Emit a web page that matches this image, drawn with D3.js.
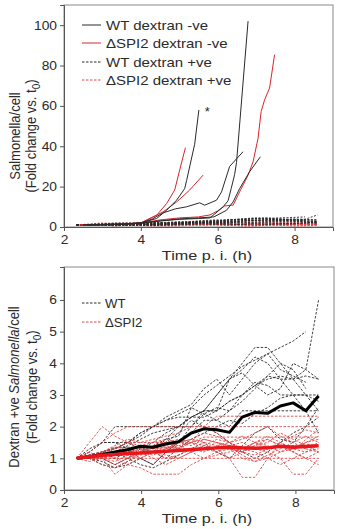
<!DOCTYPE html>
<html><head><meta charset="utf-8">
<script src="https://cdn.jsdelivr.net/npm/d3@7"></script>
<style>
body{margin:0;background:#fff}
text{font-family:"Liberation Sans",Arial,sans-serif;fill:#2b2b2b}
</style>
</head><body>
<svg id="c" width="341" height="529"></svg>
<script>
// ---------- DATA ----------
const timeGrid = [2.33,2.66,2.99,3.32,3.65,3.98,4.31,4.64,4.97,5.30,5.63,5.96,6.29,6.62,6.95,7.28,7.61,7.94,8.27,8.60];

// Top panel: dextran -ve cells (Salmonella/cell fold change)
const wtNegTimes = [
  [2.5,3.5,4.0,4.41,4.67,4.93,5.14,5.19,5.40,5.51],
  [2.5,3.5,4.0,4.5,5.0,5.5,5.8,6.14,6.27,6.35,6.44,6.49,6.79],
  [2.6,3.5,4.0,4.3,4.58,4.9,5.19,5.53,5.66,5.97,6.10,6.31,6.50,6.66],
  [2.6,3.5,4.0,4.5,5.0,5.5,5.9,6.23,6.40,6.57,6.83,7.11]
];
const wtNegValues = [
  [1,1.5,2,4.2,8.3,13.3,19,23,41,58],
  [1,1.3,1.8,3,3.8,4.2,4.5,10,13,19,26,32,102],
  [1,1.5,2,4,7,9,10,12,10.8,13.3,17.4,30,34,37.3],
  [1,1.3,2,3,4,4.5,5,8.3,12.4,19,27.4,34.8]
];
const spiNegTimes = [
  [2.4,3.5,4.0,4.41,4.67,4.88,5.01,5.16],
  [2.4,3.5,4.0,4.58,4.93,5.27,5.62],
  [2.5,3.5,4.0,4.5,5.0,5.5,5.8,6.0,6.18,6.35,6.40,6.57,6.79,6.92,7.05,7.13,7.22,7.35,7.48]
];
const spiNegValues = [
  [1,1.3,2,5.8,11.6,18.3,28.2,39.3],
  [1,1.3,2,7.5,12.4,18.3,25.7],
  [1,1.3,2,3.5,4.5,5,6,8,10.4,10.8,10.8,17.4,25.7,32.3,44,57.2,63,68.9,85.4]
];

// Dextran +ve cells (fold change), on timeGrid
const wtPosValues = [
  [1,1.1,1.2,1.3,1.5,1.8,2.0,2.2,2.4,2.6,3.0,3.3,3.6,3.9,4.1,4.3,4.5,4.7,5.0,null],
  [1,1.2,1.5,1.5,1.5,1.3,1.2,1.6,2.0,2.3,2.5,2.5,2.8,3.0,3.3,3.5,3.6,3.5,3.8,6.0],
  [1,1.1,1.0,0.8,1.0,1.3,1.5,1.8,2.0,2.3,2.5,3.0,3.5,4.0,4.5,4.5,4.0,3.5,3.0,2.5],
  [1,1.0,1.2,1.3,1.5,1.7,2.0,2.2,2.3,2.3,2.5,3.0,3.5,3.8,4.2,4.0,3.5,3.0,3.0,3.0],
  [1,1.3,1.5,1.5,1.3,1.0,0.8,1.2,1.5,2.0,2.5,2.5,3.5,3.7,3.3,3.0,3.2,4.0,3.8,3.5],
  [1,1.0,0.9,0.7,0.8,1.0,0.8,1.2,1.5,1.8,2.2,2.2,2.0,2.5,2.5,2.5,2.5,2.5,2.5,2.5],
  [1,1.2,1.5,2.0,2.0,2.0,2.0,2.0,2.0,2.3,2.3,2.5,2.8,3.0,3.3,3.6,3.5,3.5,3.6,3.5],
  [1,1.0,1.0,1.2,1.4,1.6,1.8,1.9,2.0,2.0,2.4,2.6,2.5,2.8,3.2,3.6,4.0,3.8,3.2,null],
  [1,1.0,1.2,1.0,1.2,1.4,1.3,1.5,1.8,2.2,2.0,1.8,1.5,1.2,1.0,1.2,1.5,1.8,2.0,2.3],
  [1,1.1,1.2,1.35,1.35,1.35,1.2,1.0,1.3,1.6,1.8,2.0,2.2,2.1,2.4,2.6,2.9,3.0,2.5,1.8],
  [1,1.0,0.8,0.7,0.9,1.2,1.4,1.6,1.7,2.6,2.4,2.2,2.5,3.0,3.4,3.3,3.0,3.0,3.0,2.8],
  [1,1.1,1.2,1.3,1.5,1.8,2.0,2.3,2.5,2.7,3.2,3.5,3.0,3.5,4.0,4.3,3.8,3.6,3.4,null],
  [1,1.0,1.1,1.2,1.0,0.8,0.7,0.9,1.1,1.3,1.5,1.2,1.0,1.4,1.8,2.0,1.6,1.5,2.0,2.6]
];
const spiPosValues = [
  [1,1.5,2.0,1.7,1.5,1.3,1.2,1.3,1.5,1.6,1.5,1.4,1.3,1.2,1.5,1.4,1.2,1.3,1.5,1.6],
  [1,1.0,1.0,0.5,0.8,1.0,1.2,1.0,1.1,1.3,1.2,1.4,1.5,1.3,1.2,1.0,0.8,1.0,1.2,1.3],
  [1,1.0,1.0,1.0,0.8,0.7,0.5,0.5,0.5,0.8,1.0,1.2,1.3,1.0,0.9,1.0,1.2,1.4,1.3,1.5],
  [1,1.1,1.2,1.3,1.5,1.4,1.3,1.5,1.6,1.5,1.4,1.3,1.0,0.4,0.4,1.0,1.5,1.3,1.2,1.4],
  [1,1.0,1.1,1.2,1.2,1.3,1.2,1.3,1.4,1.5,1.6,1.5,1.4,1.5,1.3,1.2,1.0,0.5,0.5,1.0],
  [1,1.2,1.5,1.8,2.0,2.0,2.0,2.0,2.0,2.0,2.0,2.0,2.0,2.0,2.0,2.0,2.0,2.0,2.0,2.0],
  [1,1,1,1,1,1,1,1,1,1,1,1,1,1,1,1,1,1,1,1],
  [1,1.0,1.0,1.33,1.33,1.33,1.33,1.33,1.33,1.5,1.67,1.67,1.67,1.67,1.67,1.67,1.67,1.67,1.67,1.67],
  [1,1.0,1.2,1.3,1.5,1.5,1.6,1.7,1.8,2.0,2.0,2.33,2.33,2.33,2.33,2.33,2.33,2.33,2.33,2.33],
  [1,1.1,1.0,0.9,1.1,1.2,1.4,1.5,1.3,1.2,1.4,1.6,1.5,1.7,1.5,1.3,1.5,1.7,1.9,1.8],
  [1,0.9,1.0,1.2,1.1,1.0,1.2,1.4,1.3,1.5,1.3,1.2,1.4,1.2,1.1,1.3,1.4,1.2,1.6,1.9],
  [1,1.0,1.2,1.4,1.6,1.5,1.5,1.5,1.4,1.2,1.0,1.1,1.2,1.3,1.5,1.6,1.4,1.3,1.5,1.7],
  [1,1.0,1.0,1.1,1.3,1.2,1.1,1.3,1.5,1.6,1.8,1.7,1.5,1.6,1.8,2.0,1.7,1.5,1.3,1.2],
  [1,1.0,0.8,0.7,0.9,1.1,1.2,1.1,1.0,1.2,1.3,1.5,1.4,1.1,0.9,1.1,1.3,1.5,1.7,1.5],
  [1,1.1,1.2,1.2,1.3,1.4,1.5,1.6,1.5,1.4,1.6,1.5,1.3,1.2,1.4,1.5,1.8,1.6,1.4,1.2],
  [1,1.05,1.1,1.15,1.2,1.25,1.3,1.35,1.3,1.25,1.3,1.35,1.4,1.35,1.3,1.35,1.4,1.4,1.45,1.4],
  [1,1.0,1.0,1.0,1.0,1.2,1.4,1.5,1.5,1.5,2.0,1.8,1.5,1.3,1.5,1.7,1.5,1.2,1.0,0.8],
  [1,1.2,1.0,0.8,1.0,1.2,1.0,0.8,1.0,1.2,1.4,1.2,1.0,1.2,1.4,1.6,1.4,1.2,1.0,1.2]
];
const wtPosMean  = [1.0,1.05,1.12,1.2,1.27,1.38,1.35,1.45,1.52,1.8,1.93,1.9,1.82,2.3,2.45,2.42,2.65,2.75,2.5,2.97];
const spiPosMean = [1.0,1.05,1.1,1.12,1.15,1.17,1.2,1.22,1.25,1.28,1.3,1.33,1.35,1.33,1.32,1.33,1.38,1.35,1.37,1.4];

const xTicks = [2,4,6,8];
const topYTicks = [0,20,40,60,80,100];
const botYTicks = [0,1,2,3,4,5,6];
const topLegend = ["WT dextran -ve","\u0394SPI2 dextran -ve","WT dextran +ve","\u0394SPI2 dextran +ve"];
const botLegend = ["WT","\u0394SPI2"];

// ---------- DRAW ----------
const svg = d3.select("#c");
const BLACK = "#2a2a2a", RED = "#d8262a", DRED = "#d9484a";
const SX = 1.2; // horizontal stretch of the original figure's lettering

function htext(parent, x, y, str, size, sx, anchor){
  return parent.append("g").attr("transform",`translate(${x},${y}) scale(${sx},1)`)
    .append("text").attr("text-anchor",anchor||"start").attr("font-size",size).text(str);
}

function panel(cfg){
  const x = d3.scaleLinear().domain([2,9]).range([cfg.l, cfg.r]);
  const y = d3.scaleLinear().domain(cfg.yd).range([cfg.b, cfg.t]);
  const g = svg.append("g");
  const id = "clip"+cfg.name;
  svg.append("clipPath").attr("id",id).append("rect")
    .attr("x",cfg.l).attr("y",cfg.t).attr("width",cfg.r-cfg.l).attr("height",cfg.b-cfg.t);
  g.append("rect").attr("x",cfg.l).attr("y",cfg.t).attr("width",cfg.r-cfg.l).attr("height",cfg.b-cfg.t)
    .attr("fill","none").attr("stroke","#8a8a8a").attr("stroke-width",1);
  const xa = g.append("g").attr("transform",`translate(0,${cfg.b})`)
    .call(d3.axisBottom(x).tickValues(xTicks).tickSize(4).tickPadding(4).tickFormat(d3.format("d")));
  const ya = g.append("g").attr("transform",`translate(${cfg.l},0)`)
    .call(d3.axisLeft(y).tickValues(cfg.yt).tickSize(4).tickPadding(3).tickFormat(d3.format("d")));
  [xa,ya].forEach(a=>{
    a.select(".domain").attr("stroke","#555");
    a.selectAll(".tick line").attr("stroke","#555");
    a.selectAll("text").attr("font-size",12).attr("font-family","Liberation Sans, Arial, sans-serif")
      .attr("fill","#2b2b2b").attr("transform",`scale(1.15,1)`);
  });
  ya.selectAll("text").attr("x",-7/1.15);
  const plot = g.append("g").attr("clip-path",`url(#${id})`);
  return {x,y,g,plot};
}

function gridSeries(vals){ return vals.map((v,i)=>[timeGrid[i],v]); }

function rotTitle(parent, cx, cy, lines, size, gap){
  const yt = parent.append("g").attr("transform",`translate(${cx},${cy}) scale(1.15,1) rotate(-90)`);
  lines.forEach((ln,i)=>{
    const t = yt.append("text").attr("x",0).attr("y",i*gap).attr("text-anchor","middle").attr("font-size",size);
    ln(t);
  });
}

// ----- Top panel -----
const P1 = panel({name:"a",l:64,r:333,t:5,b:227,yd:[0,110],yt:topYTicks});
{
  const line = d3.line().defined(d=>d[1]!=null).x(d=>P1.x(d[0])).y(d=>P1.y(d[1]));
  spiPosValues.forEach(s=>P1.plot.append("path").attr("d",line(gridSeries(s)))
    .attr("fill","none").attr("stroke",DRED).attr("stroke-width",0.9).attr("stroke-dasharray","2,1.5"));
  wtPosValues.forEach(s=>P1.plot.append("path").attr("d",line(gridSeries(s)))
    .attr("fill","none").attr("stroke",BLACK).attr("stroke-width",0.9).attr("stroke-dasharray","2,1.5"));
  spiNegValues.forEach((s,k)=>P1.plot.append("path").attr("d",line(s.map((v,i)=>[spiNegTimes[k][i],v])))
    .attr("fill","none").attr("stroke",RED).attr("stroke-width",1));
  wtNegValues.forEach((s,k)=>P1.plot.append("path").attr("d",line(s.map((v,i)=>[wtNegTimes[k][i],v])))
    .attr("fill","none").attr("stroke",BLACK).attr("stroke-width",1));
  // asterisk
  P1.g.append("text").attr("x",P1.x(5.66)).attr("y",P1.y(55)).attr("font-size",13).text("*");
  // legend
  const ly = [25,43,62,80];
  const lstyle = [[BLACK,null],[RED,null],[BLACK,"2.5,1.5"],[DRED,"2.5,1.5"]];
  topLegend.forEach((t,i)=>{
    P1.g.append("line").attr("x1",82).attr("x2",101).attr("y1",ly[i]).attr("y2",ly[i])
      .attr("stroke",lstyle[i][0]).attr("stroke-width",1).attr("stroke-dasharray",lstyle[i][1]);
    htext(P1.g,106,ly[i]+4.5,t,12.5,SX);
  });
  // axis titles
  htext(P1.g,207,259.5,"Time p. i. (h)",13.5,1.2,"middle");
  rotTitle(P1.g, 20, 136, [
    t=>t.text("Salmonella/cell"),
    t=>{ t.append("tspan").text("(Fold change vs. t");
         t.append("tspan").attr("dy",3.5).attr("font-size",10).text("0");
         t.append("tspan").attr("dy",-3.5).text(")"); }
  ], 13, 14);
}

// ----- Bottom panel -----
const P2 = panel({name:"b",l:64,r:334,t:267,b:490,yd:[0,7.04],yt:botYTicks});
{
  const line = d3.line().defined(d=>d[1]!=null).x(d=>P2.x(d[0])).y(d=>P2.y(d[1]));
  wtPosValues.forEach(s=>P2.plot.append("path").attr("d",line(gridSeries(s)))
    .attr("fill","none").attr("stroke",BLACK).attr("stroke-width",0.9).attr("stroke-dasharray","2.5,1.5"));
  spiPosValues.forEach(s=>P2.plot.append("path").attr("d",line(gridSeries(s)))
    .attr("fill","none").attr("stroke",DRED).attr("stroke-width",0.9).attr("stroke-dasharray","2.5,1.5"));
  P2.plot.append("path").attr("d",line(gridSeries(wtPosMean)))
    .attr("fill","none").attr("stroke","#000").attr("stroke-width",3).attr("stroke-linejoin","round");
  P2.plot.append("path").attr("d",line(gridSeries(spiPosMean)))
    .attr("fill","none").attr("stroke","#e8151b").attr("stroke-width",3.5).attr("stroke-linejoin","round");
  const ly = [303,322];
  const lc = [BLACK,DRED];
  botLegend.forEach((t,i)=>{
    P2.g.append("line").attr("x1",82).attr("x2",101).attr("y1",ly[i]).attr("y2",ly[i])
      .attr("stroke",lc[i]).attr("stroke-width",1).attr("stroke-dasharray","2.5,1.5");
    htext(P2.g,105,ly[i]+4.5,t,12,1.1);
  });
  htext(P2.g,207,523,"Time p. i. (h)",13.5,1.2,"middle");
  rotTitle(P2.g, 19, 387, [
    t=>{ t.append("tspan").text("Dextran +ve ");
         t.append("tspan").attr("font-style","italic").text("Salmonella");
         t.append("tspan").text("/cell"); },
    t=>{ t.append("tspan").text("(Fold change vs. t");
         t.append("tspan").attr("dy",3.5).attr("font-size",10).text("0");
         t.append("tspan").attr("dy",-3.5).text(")"); }
  ], 13, 15.5);
}
</script>
</body></html>
